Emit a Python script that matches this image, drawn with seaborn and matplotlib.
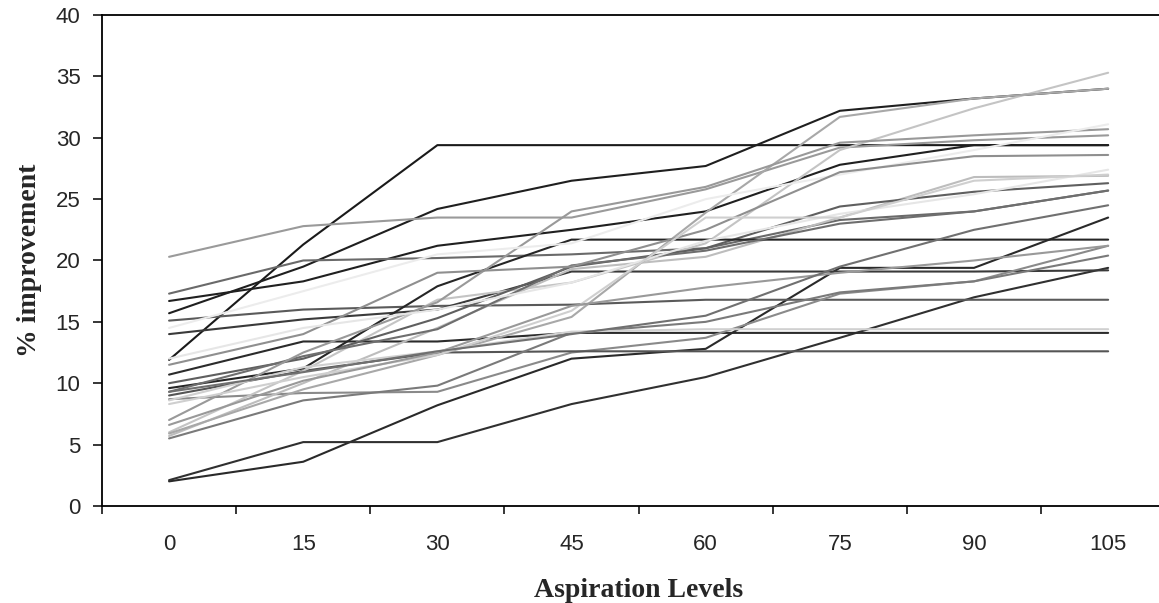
import numpy as np
import pandas as pd
import matplotlib
matplotlib.use("Agg")
import matplotlib.pyplot as plt
import seaborn as sns

# niveles de aspiracion (eje x)
niveles = ["0", "15", "30", "45", "60", "75", "90", "105"]

# % de mejora por serie
s01 = [11.9, 21.3, 29.4, 29.4, 29.4, 29.4, 29.4, 29.4]
s02 = [15.7, 19.5, 24.2, 26.5, 27.7, 32.2, 33.2, 34.0]
s03 = [2.0, 3.6, 8.2, 12.0, 12.8, 19.4, 19.4, 23.5]
s04 = [2.1, 5.2, 5.2, 8.3, 10.5, 13.7, 17.0, 19.4]
s05 = [16.7, 18.3, 21.2, 22.5, 24.0, 27.8, 29.4, 29.4]
s06 = [20.3, 22.8, 23.5, 23.5, 25.8, 29.2, 29.8, 30.2]
s07 = [17.3, 20.0, 20.2, 20.5, 21.0, 23.3, 24.0, 25.7]
s08 = [15.1, 16.0, 16.3, 16.4, 16.8, 16.8, 16.8, 16.8]
s09 = [14.0, 15.2, 16.0, 19.1, 19.1, 19.1, 19.1, 19.2]
s10 = [10.7, 13.4, 13.4, 14.1, 14.1, 14.1, 14.1, 14.1]
s11 = [8.7, 9.2, 9.3, 12.5, 13.7, 17.3, 18.3, 21.2]
s12 = [9.0, 11.0, 12.5, 12.6, 12.6, 12.6, 12.6, 12.6]
s13 = [5.5, 8.6, 9.8, 14.1, 15.0, 17.4, 18.3, 20.4]
s14 = [5.7, 10.0, 14.5, 19.3, 20.3, 23.5, 26.8, 26.9]
s15 = [6.0, 11.0, 16.8, 18.2, 21.4, 29.0, 32.4, 35.3]
s16 = [5.9, 9.5, 12.3, 15.4, 23.9, 31.7, 33.2, 34.0]
s17 = [10.0, 12.0, 15.3, 19.5, 21.0, 24.4, 25.6, 26.3]
s18 = [9.6, 11.2, 17.9, 21.7, 21.7, 21.7, 21.7, 21.7]
s19 = [9.3, 12.2, 14.4, 19.6, 20.8, 23.0, 24.0, 25.7]
s20 = [7.0, 12.5, 16.6, 24.0, 26.0, 29.6, 30.2, 30.7]
s21 = [14.5, 17.5, 20.5, 21.4, 25.0, 27.0, 29.0, 31.1]
s22 = [11.5, 14.0, 19.0, 19.5, 22.5, 27.2, 28.5, 28.6]
s23 = [12.0, 14.5, 16.0, 18.2, 21.6, 23.8, 25.4, 27.4]
s24 = [8.3, 10.5, 12.3, 15.9, 23.5, 23.5, 26.5, 27.0]
s25 = [6.6, 10.2, 12.5, 16.3, 17.8, 19.0, 20.0, 21.2]
s26 = [8.6, 11.3, 12.6, 14.2, 14.4, 14.4, 14.4, 14.4]
s27 = [9.3, 10.9, 12.6, 14.0, 15.5, 19.5, 22.5, 24.5]

series = [s01, s02, s03, s04, s05, s06, s07, s08, s09, s10, s11, s12, s13, s14,
          s15, s16, s17, s18, s19, s20, s21, s22, s23, s24, s25, s26, s27]

# tonos de gris de cada serie
grises = ["#1a1a1a", "#1f1f1f", "#2a2a2a", "#303030", "#202020", "#9a9a9a", "#6a6a6a",
          "#5a5a5a", "#3a3a3a", "#2b2b2b", "#8a8a8a", "#555555", "#7a7a7a", "#bdbdbd",
          "#c4c4c4", "#a8a8a8", "#5f5f5f", "#262626", "#6e6e6e", "#999999", "#ececec",
          "#8f8f8f", "#e6e6e6", "#cfcfcf", "#999999", "#d0d0d0", "#707070"]

filas = []
for k, vals in enumerate(series):
    for i, v in enumerate(vals):
        filas.append({"pos": i, "valor": v, "serie": f"s{k + 1}"})
df = pd.DataFrame(filas)

sns.set_style("white")
plt.rcParams['font.family'] = ['Liberation Sans', 'DejaVu Sans']

fig = plt.figure(figsize=(11.59, 6.03), dpi=100)
# el area del grafico sigue mas alla del borde derecho, como en el original
ax = fig.add_axes([0.088, 0.161, 0.926, 0.814])

sns.lineplot(data=df, x="pos", y="valor", hue="serie", palette=grises,
             linewidth=1.5, legend=False, ax=ax, estimator=None)

ax.set_xlim(-0.5, 7.5)
ax.set_ylim(0, 40)
ax.set_yticks(range(0, 41, 5))
ax.set_xticks(range(8))
ax.set_xticklabels(niveles)
ax.set_xticks(np.arange(-0.5, 7.6, 1), minor=True)
ax.tick_params(axis="x", which="major", length=0, pad=20, labelsize=16)
ax.tick_params(axis="x", which="minor", length=6, width=1.3, direction="out", bottom=True)
ax.tick_params(axis="y", length=6.5, width=1.3, direction="out", left=True, pad=9, labelsize=16)

for sp in ax.spines.values():
    sp.set_visible(True)
    sp.set_color("black")
    sp.set_linewidth(1.3)

ax.set_xlabel("Aspiration Levels", fontsize=20, fontweight="bold",
              family="Liberation Serif", labelpad=17)
ax.set_ylabel("% improvement", fontsize=20, fontweight="bold",
              family="Liberation Serif", labelpad=10)

plt.savefig("out.png", dpi=100)
